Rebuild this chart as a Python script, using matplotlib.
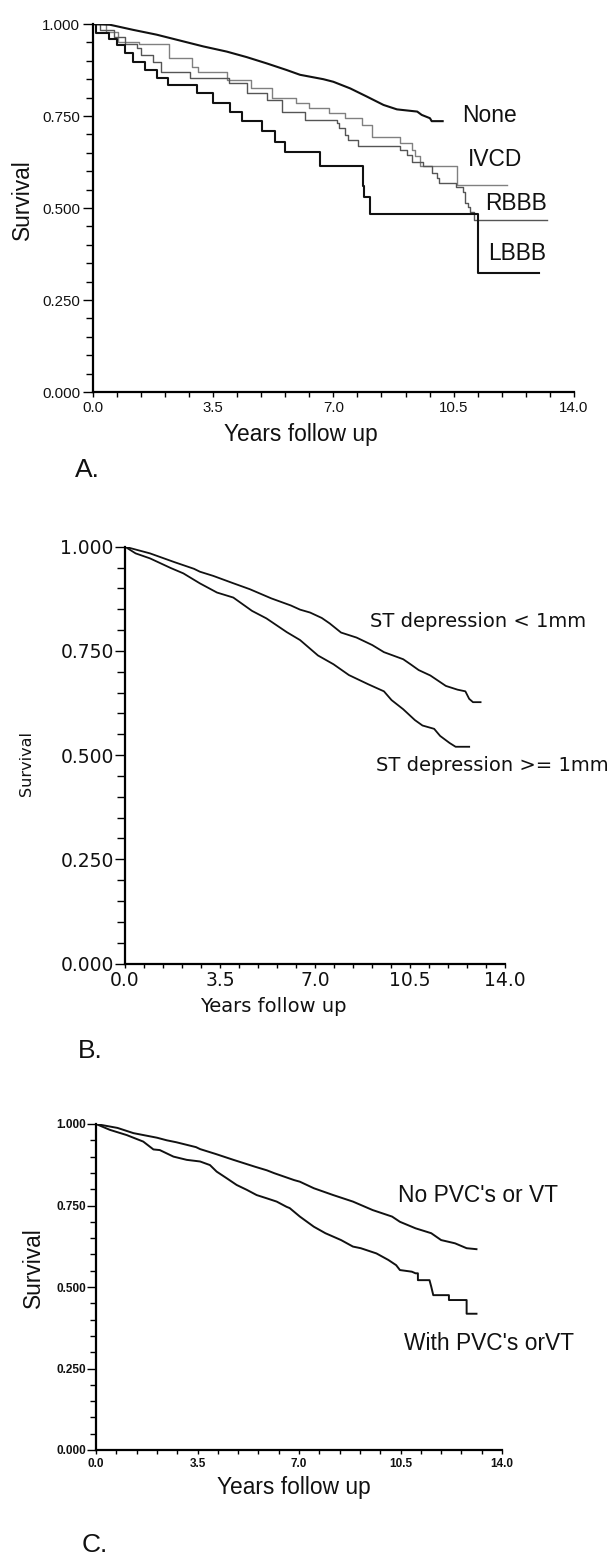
import matplotlib
matplotlib.use("Agg")
import matplotlib.pyplot as plt
import matplotlib.font_manager as fm
from matplotlib.ticker import MultipleLocator, FormatStrFormatter

# ---------------- data ----------------
# Panel A: conduction defects
none_t = [0, 0.5, 1.18, 1.86, 2.54, 3.22, 3.90, 4.48, 5.06, 5.64, 6.03, 6.71, 7.0, 7.49,
          7.97, 8.46, 8.85, 9.44, 9.57, 9.81, 9.86, 10.18]
none_s = [1.0, 0.998, 0.984, 0.971, 0.955, 0.939, 0.925, 0.910, 0.893, 0.875, 0.862, 0.850,
          0.843, 0.825, 0.803, 0.780, 0.768, 0.762, 0.753, 0.744, 0.736, 0.736]

ivcd_t = [0, 0.38, 0.73, 1.35, 2.21, 2.89, 3.06, 3.92, 4.60, 5.23, 5.90, 6.28, 6.86, 7.34,
          7.83, 8.12, 8.94, 9.28, 9.38, 9.53, 10.59, 12.05]
ivcd_s = [1.0, 0.979, 0.952, 0.947, 0.907, 0.884, 0.870, 0.848, 0.825, 0.798, 0.786, 0.771,
          0.759, 0.744, 0.726, 0.692, 0.676, 0.658, 0.640, 0.614, 0.5625, 0.5625]

rbbb_t = [0, 0.20, 0.61, 0.95, 1.30, 1.41, 1.75, 1.98, 2.84, 3.97, 4.49, 5.06, 5.51, 6.18,
          7.10, 7.15, 7.34, 7.44, 7.73, 8.95, 9.14, 9.28, 9.60, 9.87, 10.01, 10.06, 10.58,
          10.78, 10.83, 10.93, 10.98, 11.08, 13.21]
rbbb_s = [1.0, 0.985, 0.966, 0.947, 0.934, 0.916, 0.898, 0.870, 0.852, 0.839, 0.812, 0.793,
          0.762, 0.739, 0.730, 0.717, 0.698, 0.685, 0.668, 0.658, 0.644, 0.625, 0.614, 0.594,
          0.581, 0.567, 0.556, 0.544, 0.513, 0.504, 0.490, 0.467, 0.467]

lbbb_t = [0, 0.10, 0.46, 0.70, 0.94, 1.18, 1.52, 1.86, 2.20, 3.03, 3.51, 3.98, 4.34, 4.92,
          5.31, 5.60, 6.61, 7.85, 7.90, 8.07, 11.22, 12.97]
lbbb_s = [1.0, 0.975, 0.958, 0.943, 0.920, 0.898, 0.875, 0.854, 0.834, 0.813, 0.786, 0.762,
          0.737, 0.709, 0.680, 0.653, 0.614, 0.560, 0.531, 0.484, 0.324, 0.324]

# Panel B: ST depression
stlo_t = [0, 0.92, 1.82, 2.54, 2.76, 3.25, 3.96, 4.60, 5.39, 6.11, 6.45, 6.82, 7.25, 7.54,
          7.96, 8.53, 9.11, 9.54, 10.25, 10.54, 10.82, 11.25, 11.82, 12.25, 12.54, 12.68,
          12.82, 13.10]
stlo_s = [1.0, 0.984, 0.963, 0.947, 0.940, 0.930, 0.913, 0.898, 0.876, 0.859, 0.849, 0.842,
          0.829, 0.816, 0.794, 0.782, 0.764, 0.747, 0.730, 0.717, 0.704, 0.691, 0.666, 0.657,
          0.653, 0.635, 0.627, 0.627]

sthi_t = [0, 0.39, 0.92, 1.68, 2.15, 2.76, 3.39, 3.99, 4.68, 5.21, 5.96, 6.45, 7.11, 7.68,
          8.25, 8.96, 9.54, 9.82, 10.25, 10.68, 10.96, 11.39, 11.61, 11.96, 12.18, 12.68]
sthi_s = [1.0, 0.984, 0.972, 0.949, 0.936, 0.912, 0.890, 0.878, 0.846, 0.828, 0.795, 0.776,
          0.739, 0.718, 0.692, 0.670, 0.653, 0.632, 0.610, 0.584, 0.571, 0.563, 0.546, 0.529,
          0.520, 0.520]

# Panel C: PVC's / VT
nopvc_t = [0, 0.74, 1.29, 2.10, 2.44, 2.77, 3.45, 3.59, 4.13, 4.74, 5.48, 5.89, 6.15, 6.83,
           7.03, 7.51, 8.18, 8.86, 9.54, 10.21, 10.48, 11.02, 11.56, 11.90, 12.38, 12.78, 13.12]
nopvc_s = [1.0, 0.988, 0.972, 0.958, 0.950, 0.944, 0.929, 0.923, 0.908, 0.890, 0.869, 0.858,
           0.849, 0.828, 0.823, 0.803, 0.782, 0.762, 0.736, 0.716, 0.700, 0.680, 0.665, 0.644,
           0.634, 0.619, 0.616]

withpvc_t = [0, 0.48, 1.06, 1.63, 1.98, 2.20, 2.67, 3.13, 3.59, 3.93, 4.16, 4.50, 4.85, 5.20,
             5.54, 5.89, 6.23, 6.57, 6.68, 7.03, 7.51, 7.91, 8.45, 8.86, 9.13, 9.67, 10.08,
             10.35, 10.48, 10.89, 11.02, 11.10, 11.10, 11.50, 11.56, 11.63, 12.17, 12.17,
             12.78, 12.78, 13.12]
withpvc_s = [1.0, 0.982, 0.966, 0.946, 0.922, 0.920, 0.900, 0.890, 0.885, 0.874, 0.854, 0.834,
             0.813, 0.798, 0.782, 0.772, 0.762, 0.746, 0.742, 0.716, 0.685, 0.665, 0.644, 0.624,
             0.619, 0.603, 0.583, 0.567, 0.552, 0.547, 0.542, 0.542, 0.521, 0.521, 0.501, 0.475,
             0.475, 0.460, 0.460, 0.418, 0.418]

# ---------------- fonts ----------------
names = {f.name for f in fm.fontManager.ttflist}
HAVE_NARROW = "Liberation Sans Narrow" in names
NARROW = "Liberation Sans Narrow" if HAVE_NARROW else "Liberation Sans"
NSCALE = 1.0 if HAVE_NARROW else 0.84
ARIAL = "Liberation Sans"
DEJ = "DejaVu Sans"

W, H = 615, 1555
fig = plt.figure(figsize=(W / 100, H / 100), dpi=100)


def ptext(x, y, s, **kw):
    fig.text(x / W, 1 - y / H, s, **kw)


def make_axes(x0, x1, y_top, y_bot):
    ax = fig.add_axes([x0 / W, 1 - y_bot / H, (x1 - x0) / W, (y_bot - y_top) / H])
    ax.set_xlim(0, 14)
    ax.set_ylim(0, 1)
    for s in ("top", "right"):
        ax.spines[s].set_visible(False)
    for s in ("left", "bottom"):
        ax.spines[s].set_linewidth(1.6)
    ax.xaxis.set_major_locator(MultipleLocator(3.5))
    ax.xaxis.set_minor_locator(MultipleLocator(0.7))
    ax.yaxis.set_major_locator(MultipleLocator(0.25))
    ax.yaxis.set_minor_locator(MultipleLocator(0.05))
    ax.xaxis.set_major_formatter(FormatStrFormatter("%.1f"))
    ax.yaxis.set_major_formatter(FormatStrFormatter("%.3f"))
    ax.patch.set_alpha(0)
    return ax


def style_ticks(ax, ylen, yminlen, ypad, xlen, xpad, font, size, weight="normal"):
    ax.tick_params(axis="y", which="major", length=ylen, width=1.0, pad=ypad, direction="out")
    ax.tick_params(axis="y", which="minor", length=yminlen, width=1.0, direction="out")
    ax.tick_params(axis="x", which="both", length=xlen, width=1.0, pad=xpad, direction="out")
    for lab in ax.get_xticklabels() + ax.get_yticklabels():
        lab.set_fontfamily(font)
        lab.set_fontsize(size)
        lab.set_fontweight(weight)
        lab.set_color("#111111")


# ---------------- Panel A ----------------
axA = make_axes(92.7, 574, 24, 392)
axA.plot(ivcd_t, ivcd_s, drawstyle="steps-post", color="#808080", lw=1.0)
axA.plot(rbbb_t, rbbb_s, drawstyle="steps-post", color="#555555", lw=1.0)
axA.plot(lbbb_t, lbbb_s, drawstyle="steps-post", color="#111111", lw=1.5)
axA.plot(none_t, none_s, color="#111111", lw=1.5)
style_ticks(axA, 7.2, 5.0, 1.9, 3.6, 2.6, ARIAL, 10.8)

labA = dict(family=NARROW, size=19.5 * NSCALE, color="#111111", va="baseline", ha="left")
ptext(462, 122, "None", **labA)
ptext(468, 166, "IVCD", **labA)
ptext(485, 210, "RBBB", **labA)
ptext(488, 260, "LBBB", **labA)
ptext(301, 441, "Years follow up", family=NARROW, size=19.5 * NSCALE, ha="center",
      va="baseline", color="#111111")
ptext(22, 200, "Survival", family=NARROW, size=19.5 * NSCALE, rotation=90, ha="center",
      va="center", color="#111111")
ptext(75, 477, "A.", family=ARIAL, size=19, ha="left", va="baseline", color="#111111")

# ---------------- Panel B ----------------
axB = make_axes(125, 505, 546.7, 963.5)
axB.plot(stlo_t, stlo_s, color="#111111", lw=1.3)
axB.plot(sthi_t, sthi_s, color="#111111", lw=1.3)
style_ticks(axB, 7.2, 5.8, 0.9, 2.9, 2.2, DEJ, 13.5)
labB = dict(family=DEJ, size=14, color="#111111", va="baseline", ha="left")
ptext(370, 627, "ST depression < 1mm", **labB)
ptext(376, 771, "ST depression >= 1mm", **labB)
ptext(273.5, 1012, "Years follow up", family=DEJ, size=14, ha="center", va="baseline",
      color="#111111")
ptext(27, 763, "Survival", family=DEJ, size=11.5, rotation=90, ha="center", va="center",
      color="#111111")
ptext(78, 1058, "B.", family=ARIAL, size=19, ha="left", va="baseline", color="#111111")

# ---------------- Panel C ----------------
axC = make_axes(96, 502, 1124, 1450)
axC.plot(nopvc_t, nopvc_s, color="#111111", lw=1.4)
axC.plot(withpvc_t, withpvc_s, color="#111111", lw=1.4)
style_ticks(axC, 6.5, 4.3, 0.7, 2.9, 2.9, ARIAL, 8.5, weight="bold")
labC = dict(family=NARROW, size=19.5 * NSCALE, color="#111111", va="baseline", ha="left")
ptext(398, 1202, "No PVC's or VT", **labC)
ptext(404, 1350, "With PVC's orVT", **labC)
ptext(293.5, 1494, "Years follow up", family=NARROW, size=19.5 * NSCALE, ha="center",
      va="baseline", color="#111111")
ptext(33, 1268, "Survival", family=NARROW, size=19.5 * NSCALE, rotation=90, ha="center",
      va="center", color="#111111")
ptext(82, 1552, "C.", family=ARIAL, size=19, ha="left", va="baseline", color="#111111")

fig.savefig("out.png", dpi=100, facecolor="white")
